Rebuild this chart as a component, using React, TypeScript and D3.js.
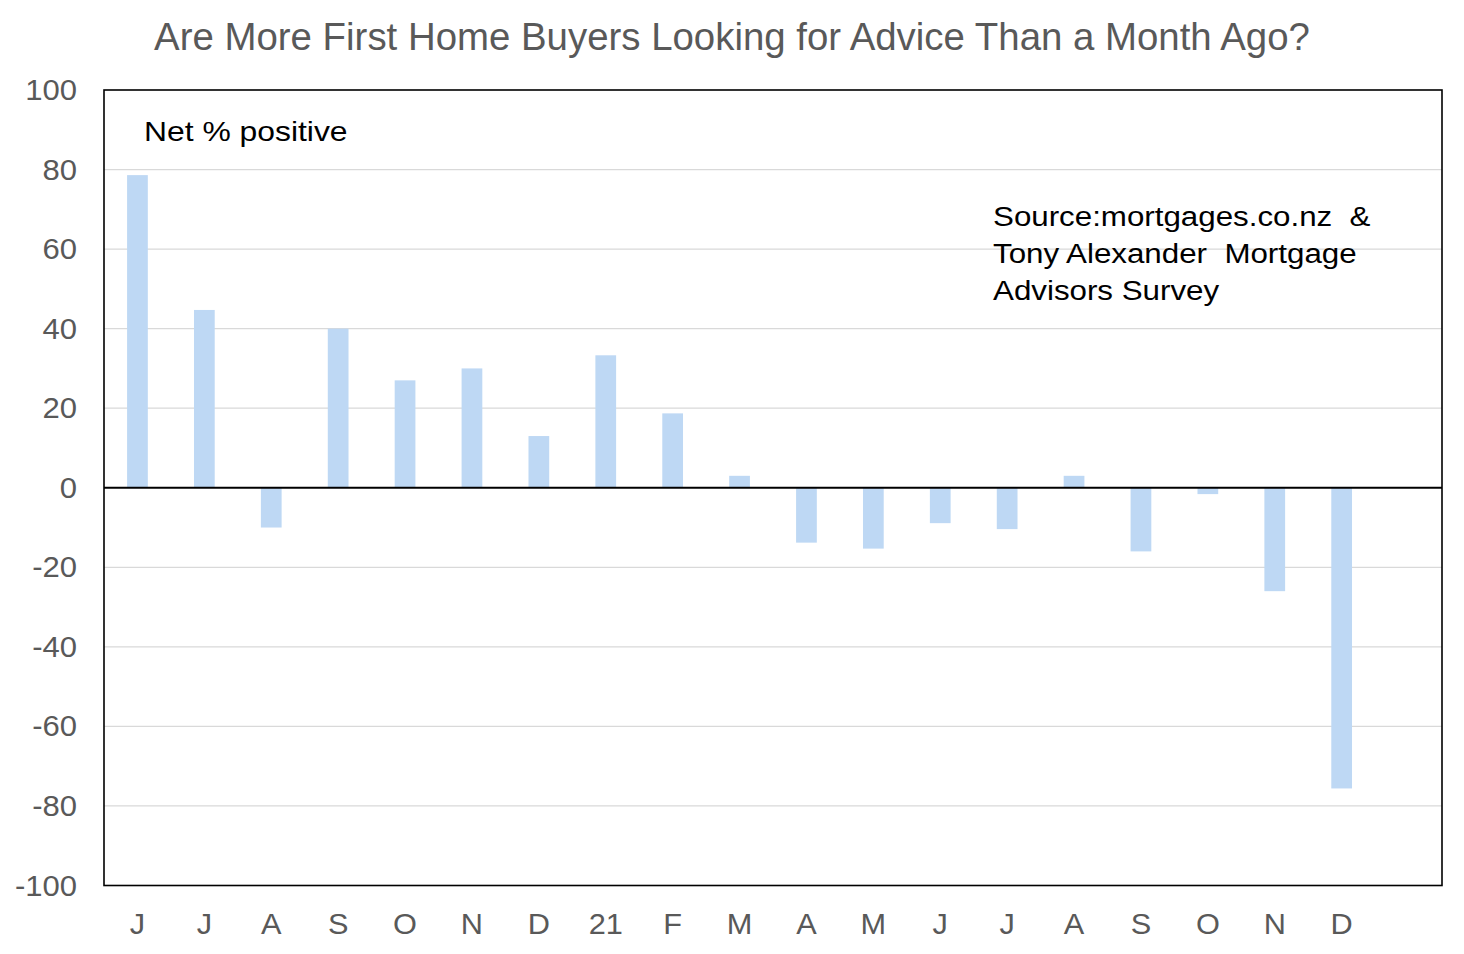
import React from "react";
import * as d3 from "d3";

const categories = ["J", "J", "A", "S", "O", "N", "D", "21", "F", "M", "A", "M", "J", "J", "A", "S", "O", "N", "D", ""];
const values: (number | null)[] = [78.6, 44.7, -10, 40, 27, 30, 13, 33.3, 18.7, 3, -13.8, -15.3, -8.9, -10.4, 3, -16, -1.6, -26, -75.6, null];
const yTicks = [100, 80, 60, 40, 20, 0, -20, -40, -60, -80, -100];
const sourceLines = ["Source:mortgages.co.nz  &", "Tony Alexander  Mortgage", "Advisors Survey"];

const W = 1464;
const H = 954;
const plot = { left: 104, right: 1442, top: 90, bottom: 885.5 };

export default function App() {
  const x = d3
    .scaleBand<number>()
    .domain(categories.map((_, i) => i))
    .range([plot.left, plot.right])
    .paddingInner(0.69)
    .paddingOuter(0.345);
  const y = d3.scaleLinear().domain([-100, 100]).range([plot.bottom, plot.top]);
  const font = "'Liberation Sans', Arial, sans-serif";
  const grey = "#595959";

  return (
    <svg width={W} height={H} style={{ position: "absolute", left: 0, top: 0, background: "#fff" }} fontFamily={font}>
      <rect x={0} y={0} width={W} height={H} fill="#fff" />
      <text x={732} y={50} textAnchor="middle" fontSize={38.4} fill={grey}>
        Are More First Home Buyers Looking for Advice Than a Month Ago?
      </text>
      {yTicks.map((t) =>
        t !== 0 && t !== 100 && t !== -100 ? (
          <line key={"g" + t} x1={plot.left} x2={plot.right} y1={y(t)} y2={y(t)} stroke="#d9d9d9" strokeWidth={1.3} />
        ) : null
      )}
      {values.map((v, i) =>
        v === null ? null : (
          <rect
            key={"b" + i}
            x={x(i)}
            width={x.bandwidth()}
            y={Math.min(y(v), y(0))}
            height={Math.abs(y(v) - y(0))}
            fill="#bed8f4"
          />
        )
      )}
      <line x1={plot.left} x2={plot.right} y1={y(0)} y2={y(0)} stroke="#000" strokeWidth={1.8} />
      <rect
        x={plot.left}
        y={plot.top}
        width={plot.right - plot.left}
        height={plot.bottom - plot.top}
        fill="none"
        stroke="#000"
        strokeWidth={1.6}
      />
      {yTicks.map((t) => (
        <g key={"t" + t} transform={`translate(77,${y(t) + 10}) scale(1.07,1)`}>
          <text x={0} y={0} textAnchor="end" fontSize={29} fill={grey}>
            {t}
          </text>
        </g>
      ))}
      {categories.map((c, i) => (
        <g key={"c" + i} transform={`translate(${(x(i) as number) + x.bandwidth() / 2},934) scale(1.06,1)`}>
          <text x={0} y={0} textAnchor="middle" fontSize={29} fill={grey}>
            {c}
          </text>
        </g>
      ))}
      <g transform="translate(144,141) scale(1.18,1)">
        <text x={0} y={0} fontSize={27} fill="#000" style={{ whiteSpace: "pre" }}>
          Net % positive
        </text>
      </g>
      <g transform="translate(993,0) scale(1.16,1)">
        <text fontSize={27} fill="#000" style={{ whiteSpace: "pre" }}>
          {sourceLines.map((l, i) => (
            <tspan key={i} x={0} y={226 + i * 37}>
              {l}
            </tspan>
          ))}
        </text>
      </g>
    </svg>
  );
}
